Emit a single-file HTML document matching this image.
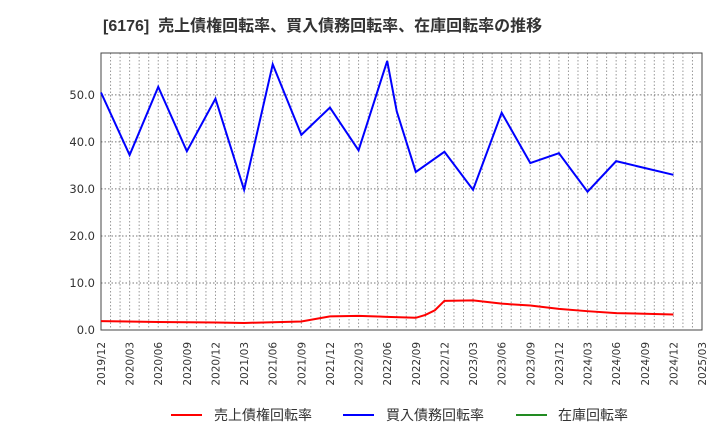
<!DOCTYPE html>
<html><head><meta charset="utf-8"><style>
body{margin:0;background:#fff;width:720px;height:440px;overflow:hidden}
svg{font-family:"Liberation Sans","Noto Sans CJK JP",sans-serif}
</style></head><body>
<svg id="c" width="720" height="440">
<text x="103" y="31" font-size="16" font-weight="bold" fill="#333">[6176]&#160;&#160;売上債権回転率、買入債務回転率、在庫回転率の推移</text>
<g id="grid"></g><g id="axes"></g><g id="series"></g>
<g>
<g><line x1="171" y1="415" x2="202" y2="415" stroke="#f00" stroke-width="2"/><text x="214" y="420" font-size="14" fill="#333">売上債権回転率</text></g>
<g><line x1="343" y1="415" x2="374" y2="415" stroke="#00f" stroke-width="2"/><text x="386" y="420" font-size="14" fill="#333">買入債務回転率</text></g>
<g><line x1="516" y1="415" x2="547" y2="415" stroke="#228b22" stroke-width="2"/><text x="558" y="420" font-size="14" fill="#333">在庫回転率</text></g>
</g>
</svg>
<script>
const xTickLabels=["2019/12","2020/03","2020/06","2020/09","2020/12","2021/03","2021/06","2021/09","2021/12","2022/03","2022/06","2022/09","2022/12","2023/03","2023/06","2023/09","2023/12","2024/03","2024/06","2024/09","2024/12","2025/03"];
const yTicks=[0,10,20,30,40,50];
const blueMonths=[0,3,6,9,12,15,18,21,24,27,30,31,33,36,39,42,45,48,51,54,60];
const blueValues=[50.5,37.2,51.7,38.0,49.2,29.8,56.5,41.5,47.3,38.2,57.2,46.5,33.6,37.9,29.8,46.2,35.5,37.6,29.4,35.9,33.0];
const redMonths=[0,6,12,15,21,24,27,30,33,34,35,36,39,42,45,48,51,54,60];
const redValues=[1.9,1.7,1.6,1.5,1.8,2.9,3.0,2.8,2.6,3.2,4.2,6.2,6.3,5.6,5.2,4.5,4.0,3.6,3.3];
const L=101,R=702,T=53,B=330,yMax=58.9,nMonths=63;
const X=m=>L+(R-L)*m/nMonths, Y=v=>B-(B-T)*v/yMax;
const NS="http://www.w3.org/2000/svg";
function mk(t,p,a){const e=document.createElementNS(NS,t);for(const k in a)e.setAttribute(k,a[k]);p.appendChild(e);return e;}
const grid=document.getElementById('grid'),axes=document.getElementById('axes'),ser=document.getElementById('series');
for(let m=1;m<nMonths;m++){const l=mk('line',grid,{x1:X(m),x2:X(m),y1:T,y2:B,stroke:'#999','stroke-dasharray':'1.5,2','stroke-width':1});

}
yTicks.forEach(v=>{if(v>0){const l=mk('line',grid,{x1:L,x2:R,y1:Y(v),y2:Y(v),stroke:'#777','stroke-dasharray':'1.5,2','stroke-width':1});

}
const t=mk('text',axes,{x:L-6,y:Y(v)+4,'text-anchor':'end','font-size':11.5,fill:'#333','font-family':'"DejaVu Sans",sans-serif'});t.textContent=v.toFixed(1);

});
xTickLabels.forEach((s,i)=>{const x=X(i*3);const t=mk('text',axes,{transform:`translate(${x+4},342) rotate(-90)`,'text-anchor':'end','font-size':10.5,fill:'#333','font-family':'"DejaVu Sans",sans-serif'});t.textContent=s;

});
const f=mk('rect',axes,{x:L,y:T,width:R-L,height:B-T,fill:'none',stroke:'#444','stroke-width':1});


const pb=mk('polyline',ser,{points:blueMonths.map((m,i)=>X(m)+','+Y(blueValues[i])).join(' '),fill:'none',stroke:'#00f','stroke-width':2});


const pr=mk('polyline',ser,{points:redMonths.map((m,i)=>X(m)+','+Y(redValues[i])).join(' '),fill:'none',stroke:'#f00','stroke-width':2});


</script>
</body></html>
